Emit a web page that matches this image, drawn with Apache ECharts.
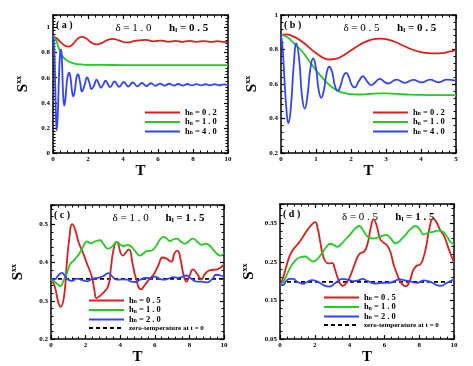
<!DOCTYPE html>
<html>
<head>
<meta charset="utf-8">
<script src="https://cdn.jsdelivr.net/npm/echarts@6/dist/echarts.min.js"></script>
<style>
  html, body { margin: 0; padding: 0; background: #fff; }
  #chart { width: 473px; height: 366px; }
</style>
</head>
<body>
<div id="chart"></div>
<script>
// ---------- data: [T, Sxx] ----------
// (a) delta = 1.0, hl = 0.5
const aRed = [[0,0.933],[0.2,0.915],[0.45,0.88],[0.7,0.855],[0.9,0.848],[1.15,0.87],[1.4,0.91],[1.65,0.925],[1.9,0.912],[2.2,0.88],[2.5,0.866],[2.8,0.878],[3.1,0.9],[3.4,0.91],[3.75,0.898],[4.2,0.881],[4.7,0.893],[5.3,0.901],[5.75,0.89],[6.2,0.896],[6.6,0.887],[7.0,0.894],[7.4,0.886],[7.8,0.893],[8.2,0.886],[8.6,0.892],[9.0,0.886],[9.4,0.891],[9.8,0.886],[10,0.888]];
const aGreen = [[0,0.935],[0.15,0.905],[0.3,0.85],[0.45,0.795],[0.6,0.76],[0.8,0.738],[1.05,0.72],[1.3,0.71],[1.6,0.706],[2,0.703],[3,0.702],[4,0.701],[5,0.701],[6,0.701],[7,0.701],[8,0.701],[9,0.701],[10,0.701]];
const aBlue = [[0,0.935],[0.05,0.88],[0.1,0.7],[0.15,0.4],[0.21,0.18],[0.27,0.3],[0.34,0.6],[0.4,0.78],[0.46,0.825],[0.52,0.7],[0.57,0.5],[0.64,0.378],[0.7,0.42],[0.78,0.55],[0.85,0.62],[0.92,0.64],[1.0,0.6],[1.08,0.5],[1.16,0.452],[1.24,0.49],[1.34,0.6],[1.43,0.626],[1.54,0.57],[1.66,0.49],[1.8,0.54],[1.95,0.602],[2.08,0.56],[2.2,0.51],[2.35,0.54],[2.49,0.585],[2.62,0.55],[2.74,0.52],[2.87,0.545],[3.0,0.576],[3.13,0.55],[3.26,0.525],[3.52,0.57],[3.78,0.528],[4.04,0.566],[4.3,0.53],[4.56,0.562],[4.82,0.532],[5.08,0.558],[5.34,0.534],[5.6,0.556],[5.86,0.536],[6.12,0.553],[6.38,0.537],[6.64,0.552],[6.9,0.538],[7.16,0.55],[7.42,0.538],[7.68,0.55],[7.94,0.539],[8.2,0.549],[8.46,0.539],[8.72,0.548],[8.98,0.54],[9.24,0.548],[9.5,0.54],[9.76,0.547],[10,0.541]];

// (b) delta = 0.5, hl = 0.5
const bRed = [[0,0.885],[0.15,0.888],[0.3,0.88],[0.5,0.86],[0.7,0.83],[0.9,0.795],[1.1,0.765],[1.25,0.748],[1.4,0.742],[1.55,0.745],[1.75,0.762],[2.0,0.795],[2.25,0.828],[2.5,0.852],[2.7,0.861],[2.85,0.863],[3.0,0.86],[3.25,0.845],[3.5,0.822],[3.75,0.8],[4.0,0.785],[4.2,0.779],[4.4,0.777],[4.6,0.779],[4.8,0.787],[5,0.797]];
const bGreen = [[0,0.885],[0.15,0.875],[0.3,0.85],[0.45,0.82],[0.6,0.79],[0.8,0.735],[1.0,0.68],[1.2,0.632],[1.4,0.592],[1.6,0.563],[1.8,0.548],[2.0,0.541],[2.2,0.539],[2.5,0.542],[2.8,0.546],[3.0,0.546],[3.3,0.543],[3.7,0.538],[4.2,0.536],[4.6,0.535],[5,0.535]];
const bBlue = [[0,0.885],[0.05,0.8],[0.1,0.62],[0.16,0.44],[0.21,0.372],[0.28,0.46],[0.36,0.7],[0.44,0.836],[0.52,0.74],[0.6,0.53],[0.68,0.457],[0.76,0.54],[0.84,0.69],[0.92,0.748],[1.0,0.69],[1.08,0.56],[1.15,0.52],[1.23,0.57],[1.3,0.66],[1.38,0.70],[1.46,0.67],[1.54,0.59],[1.62,0.56],[1.7,0.59],[1.78,0.645],[1.86,0.665],[1.94,0.64],[2.02,0.595],[2.1,0.58],[2.22,0.615],[2.34,0.645],[2.46,0.615],[2.58,0.593],[2.7,0.612],[2.82,0.63],[2.94,0.615],[3.06,0.603],[3.3,0.625],[3.54,0.607],[3.78,0.624],[4.02,0.609],[4.26,0.625],[4.5,0.61],[4.74,0.625],[5,0.618]];

// (c) delta = 1.0, hl = 1.5
const cRed = [[0,0.355],[0.2,0.34],[0.4,0.3],[0.55,0.284],[0.75,0.31],[0.9,0.39],[1.05,0.46],[1.23,0.5],[1.4,0.485],[1.6,0.452],[1.85,0.425],[2.07,0.398],[2.36,0.363],[2.5,0.33],[2.63,0.307],[2.8,0.312],[3.0,0.32],[3.3,0.338],[3.45,0.38],[3.6,0.43],[3.8,0.454],[4.15,0.418],[4.5,0.434],[4.7,0.4],[4.9,0.36],[5.2,0.33],[5.45,0.343],[5.7,0.357],[5.95,0.37],[6.2,0.392],[6.45,0.413],[6.68,0.41],[6.95,0.402],[7.15,0.425],[7.31,0.431],[7.5,0.405],[7.65,0.37],[7.83,0.35],[8.0,0.365],[8.21,0.382],[8.45,0.37],[8.69,0.356],[8.9,0.37],[9.2,0.38],[9.6,0.382],[10,0.395]];
const cGreen = [[0,0.355],[0.2,0.35],[0.4,0.342],[0.55,0.338],[0.7,0.35],[0.92,0.372],[1.1,0.395],[1.3,0.405],[1.5,0.415],[1.7,0.428],[1.9,0.445],[2.07,0.455],[2.3,0.45],[2.55,0.455],[2.84,0.458],[3.05,0.447],[3.3,0.436],[3.55,0.442],[3.8,0.454],[4.0,0.447],[4.2,0.443],[4.4,0.446],[4.6,0.443],[4.85,0.43],[5.14,0.418],[5.35,0.424],[5.55,0.43],[5.8,0.431],[6.1,0.445],[6.3,0.46],[6.5,0.467],[6.7,0.462],[6.87,0.456],[7.05,0.46],[7.26,0.462],[7.5,0.455],[7.74,0.449],[7.95,0.455],[8.2,0.462],[8.45,0.455],[8.7,0.446],[8.95,0.449],[9.15,0.445],[9.4,0.432],[9.6,0.422],[9.8,0.418],[10,0.425]];
const cBlue = [[0,0.36],[0.2,0.355],[0.4,0.365],[0.63,0.373],[0.8,0.365],[0.95,0.356],[1.2,0.352],[1.5,0.358],[1.8,0.354],[2.1,0.351],[2.4,0.358],[2.7,0.36],[3.0,0.364],[3.32,0.372],[3.55,0.363],[3.8,0.355],[4.1,0.356],[4.4,0.355],[4.65,0.35],[4.86,0.349],[5.15,0.355],[5.43,0.36],[5.7,0.359],[6.0,0.363],[6.25,0.358],[6.5,0.355],[6.8,0.358],[7.05,0.362],[7.3,0.36],[7.55,0.362],[7.83,0.366],[8.1,0.358],[8.4,0.35],[8.7,0.35],[9.0,0.348],[9.3,0.356],[9.56,0.368],[9.8,0.366],[10,0.362]];
const cZero = [[0,0.357],[10,0.357]];

// (d) delta = 0.5, hl = 1.5
const dRed = [[0,0.19],[0.15,0.205],[0.36,0.238],[0.55,0.265],[0.74,0.281],[1.0,0.295],[1.25,0.31],[1.5,0.328],[1.75,0.343],[2.02,0.353],[2.15,0.34],[2.3,0.305],[2.45,0.27],[2.6,0.252],[2.8,0.246],[3.0,0.247],[3.15,0.232],[3.35,0.205],[3.6,0.188],[3.85,0.197],[4.05,0.215],[4.3,0.245],[4.55,0.27],[4.85,0.278],[5.05,0.3],[5.2,0.335],[5.38,0.36],[5.55,0.345],[5.75,0.31],[5.95,0.3],[6.15,0.293],[6.35,0.275],[6.55,0.24],[6.8,0.21],[7.0,0.193],[7.23,0.187],[7.45,0.2],[7.65,0.228],[7.85,0.24],[8.05,0.243],[8.2,0.255],[8.4,0.29],[8.6,0.34],[8.8,0.363],[9.0,0.352],[9.2,0.333],[9.45,0.315],[9.7,0.283],[10,0.248]];
const dGreen = [[0,0.188],[0.27,0.205],[0.55,0.232],[0.85,0.252],[1.15,0.262],[1.45,0.264],[1.7,0.256],[1.9,0.251],[2.15,0.258],[2.4,0.272],[2.65,0.288],[2.9,0.297],[3.1,0.294],[3.3,0.289],[3.55,0.298],[3.8,0.31],[4.1,0.325],[4.35,0.338],[4.56,0.343],[4.8,0.33],[5.04,0.315],[5.3,0.311],[5.6,0.313],[5.9,0.318],[6.1,0.32],[6.35,0.312],[6.64,0.298],[6.9,0.305],[7.21,0.32],[7.5,0.335],[7.79,0.343],[8.05,0.333],[8.26,0.321],[8.5,0.325],[8.8,0.328],[9.1,0.331],[9.3,0.33],[9.6,0.315],[9.8,0.302],[10,0.295]];
const dBlue = [[0,0.19],[0.17,0.19],[0.35,0.2],[0.55,0.206],[0.75,0.206],[0.95,0.2],[1.32,0.193],[1.55,0.198],[1.85,0.203],[2.15,0.199],[2.5,0.19],[2.84,0.186],[3.2,0.196],[3.6,0.206],[3.9,0.204],[4.27,0.2],[4.55,0.203],[4.75,0.206],[5.04,0.2],[5.5,0.194],[5.9,0.196],[6.28,0.196],[6.6,0.201],[6.85,0.205],[7.1,0.203],[7.42,0.2],[7.9,0.196],[8.28,0.202],[8.5,0.2],[8.76,0.196],[9.0,0.19],[9.24,0.188],[9.6,0.196],[10,0.205]];
const dZero = [[0,0.198],[10,0.198]];

// legend labels
const namesAB = ['h_n = 0 . 2', 'h_n = 1 . 0', 'h_n = 4 . 0'];
const namesCD = ['h_n = 0 . 5', 'h_n = 1 . 0', 'h_n = 2 . 0', 'zero-temperature at t = 0'];

const RED = '#dc1e1e', GREEN = '#22cc22', BLUE = '#3344ff';
const SERIF = 'Liberation Serif';

// panel layout: grid box, axis ranges and minor tick counts
const panels = [
  { grid: {left: 53, top: 15, width: 175, height: 138}, x: [0, 10, 2, 5], y: [0, 1.1, 0.2, 8], yGap: 22,
    lines: [[aRed, RED], [aGreen, GREEN], [aBlue, BLUE]], names: namesAB,
    tag: '( a )', delta: '\u03b4 = 1 . 0', hl: ' = 0 . 5', legend: {left: 144, top: 108} },
  { grid: {left: 281, top: 15, width: 175, height: 138}, x: [0, 5, 1, 5], y: [0.2, 1.0, 0.2, 5], yGap: 21,
    lines: [[bRed, RED], [bGreen, GREEN], [bBlue, BLUE]], names: namesAB,
    tag: '( b )', delta: '\u03b4 = 0 . 5', hl: ' = 0 . 5', legend: {left: 372, top: 108} },
  { grid: {left: 51, top: 205, width: 173, height: 135}, x: [0, 10, 2, 5], y: [0.2, 0.55, 0.1, 5], yGap: 25,
    lines: [[cRed, RED], [cGreen, GREEN], [cBlue, BLUE], [cZero, '#000', 'dashed']], names: namesCD,
    tag: '( c )', delta: '\u03b4 = 1 . 0', hl: ' = 1 . 5', legend: {left: 88, top: 296} },
  { grid: {left: 280, top: 204, width: 174, height: 136}, x: [0, 10, 2, 5], y: [0.05, 0.40, 0.1, 5], yGap: 23,
    lines: [[dRed, RED], [dGreen, GREEN], [dBlue, BLUE], [dZero, '#000', 'dashed']], names: namesCD,
    tag: '( d )', delta: '\u03b4 = 0 . 5', hl: ' = 1 . 5', legend: {left: 323, top: 293} }
];

const labelFont = {fontFamily: SERIF, fontWeight: 'bold', fontSize: 7, color: '#000'};

function makeAxis(i, r, pos, dim, p) {
  const main = pos === 'bottom' || pos === 'left';
  const ax = {
    type: 'value', gridIndex: i, position: pos,
    min: r[0], max: r[1], interval: r[2],
    axisLine: {show: true, onZero: false, lineStyle: {color: '#000', width: 1.5}},
    axisTick: {show: true, inside: true, length: 4, lineStyle: {color: '#000', width: 1.2}},
    minorTick: {show: true, splitNumber: r[3], length: 2.5, lineStyle: {color: '#000', width: 1}},
    splitLine: {show: false},
    axisLabel: Object.assign({show: main, margin: 3, showMaxLabel: dim === 'x' || r[1] === 1.0}, labelFont)
  };
  if (main && dim === 'x') {
    ax.name = 'T';
    ax.nameLocation = 'middle';
    ax.nameGap = 6;
    ax.nameTextStyle = {fontFamily: SERIF, fontWeight: 'bold', fontSize: 15, color: '#000', verticalAlign: 'top'};
  }
  if (main && dim === 'y') {
    ax.name = '{s|S}{p|xx}';
    ax.nameLocation = 'middle';
    ax.nameRotate = 90;
    ax.nameGap = p.yGap;
    ax.nameTextStyle = {
      color: '#000',
      rich: {
        s: {fontFamily: SERIF, fontWeight: 'bold', fontSize: 15, lineHeight: 16, verticalAlign: 'bottom'},
        p: {fontFamily: SERIF, fontWeight: 'bold', fontSize: 8, lineHeight: 16, verticalAlign: 'top'}
      }
    };
  }
  return ax;
}

const grid = [], xAxis = [], yAxis = [], series = [], legend = [], graphic = [];

panels.forEach((p, i) => {
  grid.push(p.grid);
  xAxis.push(makeAxis(i, p.x, 'bottom', 'x', p), makeAxis(i, p.x, 'top', 'x', p));
  yAxis.push(makeAxis(i, p.y, 'left', 'y', p), makeAxis(i, p.y, 'right', 'y', p));
  p.lines.forEach(([data, color, dashed], k) => {
    series.push({
      name: p.names[k], type: 'line', xAxisIndex: 2 * i, yAxisIndex: 2 * i,
      data: data, smooth: dashed ? false : 0.5, symbol: 'none', animation: false,
      lineStyle: {color: color, width: dashed ? 1.8 : 1.8, type: dashed ? [4, 3] : 'solid'},
      itemStyle: {color: color},
      z: dashed ? 1 : 2
    });
  });
  legend.push({
    data: p.names, orient: 'vertical', left: p.legend.left, top: p.legend.top,
    itemWidth: 35, itemHeight: 9, itemGap: 0.5, selectedMode: false, padding: 0,
    itemStyle: {opacity: 0},
    lineStyle: {width: 2},
    formatter: name => name.startsWith('h_n')
      ? '{h|h}{s|n}{h|' + name.slice(3) + '}'
      : '{z|' + name + '}',
    textStyle: {
      color: '#000',
      rich: {
        h: {fontFamily: SERIF, fontWeight: 'bold', fontSize: 8.5, lineHeight: 9},
        s: {fontFamily: SERIF, fontWeight: 'bold', fontSize: 5.5, lineHeight: 9, verticalAlign: 'bottom'},
        z: {fontFamily: SERIF, fontWeight: 'bold', fontSize: 7, lineHeight: 9}
      }
    }
  });

  // panel annotations
  const g = p.grid;
  const ty = g.top + 11;
  graphic.push(
    {type: 'text', x: g.left + 3, y: ty - 1, style: {text: p.tag, fontFamily: SERIF, fontWeight: 'bold', fontSize: 10, fill: '#000', verticalAlign: 'middle'}},
    {type: 'text', x: g.left + g.width * 0.46, y: ty + 2, style: {text: p.delta, fontFamily: SERIF, fontSize: 11, fill: '#000', align: 'center', verticalAlign: 'middle'}},
    {type: 'text', x: g.left + g.width * 0.775, y: ty + 2, style: {
      text: '{h|h}{s|l}{h|' + p.hl + '}', fill: '#000', align: 'center', verticalAlign: 'middle',
      rich: {
        h: {fontFamily: SERIF, fontWeight: 'bold', fontSize: 11, lineHeight: 12, fill: '#000'},
        s: {fontFamily: SERIF, fontWeight: 'bold', fontSize: 7, lineHeight: 12, verticalAlign: 'bottom', fill: '#000'}
      }
    }}
  );
});

const chart = echarts.init(document.getElementById('chart'), null, {renderer: 'canvas'});
chart.setOption({
  backgroundColor: '#fff',
  animation: false,
  grid, xAxis, yAxis, series, legend, graphic
});
</script>
</body>
</html>
